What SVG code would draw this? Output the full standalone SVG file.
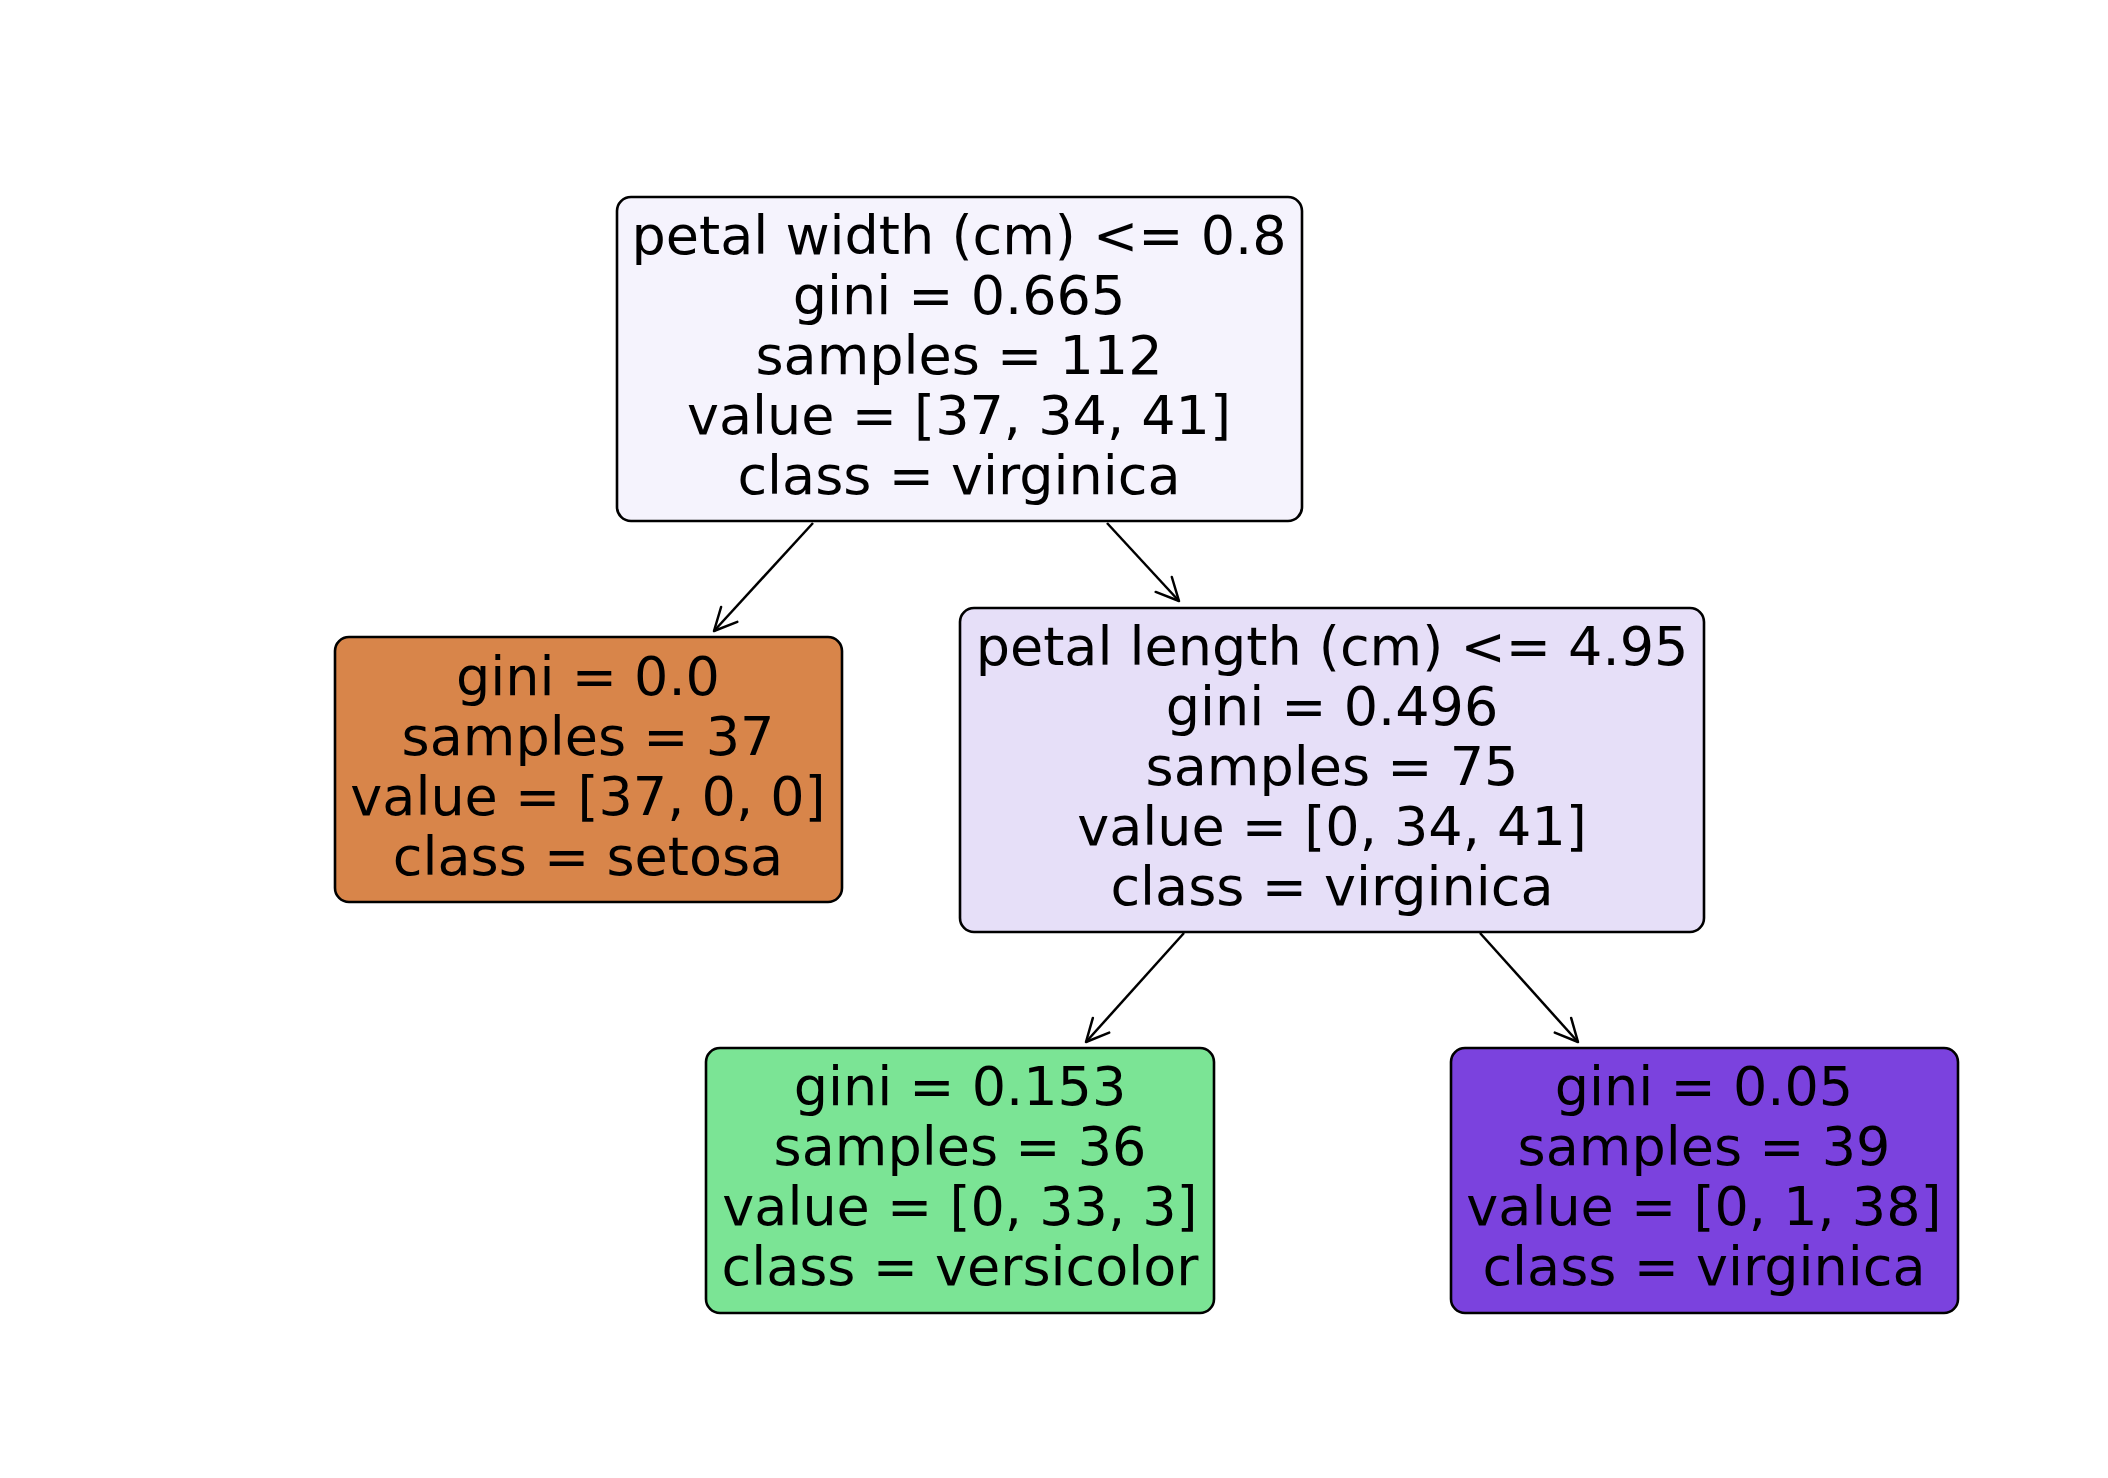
<svg xmlns="http://www.w3.org/2000/svg" width="2108" height="1478" viewBox="0 0 2108 1478">
<style>
.box{stroke:#000;stroke-width:2.6}
.t{font-family:"DejaVu Sans",sans-serif;font-size:54px;fill:#000;text-anchor:middle}
.edge{stroke:#000;stroke-width:2.5;fill:none;marker-end:url(#arr)}
</style>
<defs>
<marker id="arr" markerUnits="userSpaceOnUse" viewBox="-26 -14 30 28" refX="0" refY="0" markerWidth="30" markerHeight="28" orient="auto" overflow="visible">
<path d="M-22.5,-11 L0,0 L-22.5,11" fill="none" stroke="#000" stroke-width="2.5" stroke-linejoin="round" stroke-linecap="round"/>
</marker>
</defs>
<rect width="2108" height="1478" fill="#fff"/>
<g id="connectors">
<line class="edge" x1="813" y1="523" x2="714" y2="631"/>
<line class="edge" x1="1107" y1="523" x2="1179" y2="601"/>
<line class="edge" x1="1184" y1="933" x2="1086" y2="1042"/>
<line class="edge" x1="1480" y1="933" x2="1578" y2="1042"/>
</g>
<g id="node-root">
<rect class="box" x="617" y="197" width="685" height="324" rx="14" fill="#f5f3fd"/>
<text class="t" x="959" y="254">petal width (cm) &lt;= 0.8</text>
<text class="t" x="959" y="314">gini = 0.665</text>
<text class="t" x="959" y="374">samples = 112</text>
<text class="t" x="959" y="434">value = [37, 34, 41]</text>
<text class="t" x="959" y="494">class = virginica</text>
</g>
<g id="node-setosa">
<rect class="box" x="335" y="637" width="507" height="265" rx="14" fill="#d8854a"/>
<text class="t" x="588" y="695">gini = 0.0</text>
<text class="t" x="588" y="755">samples = 37</text>
<text class="t" x="588" y="815">value = [37, 0, 0]</text>
<text class="t" x="588" y="875">class = setosa</text>
</g>
<g id="node-petal-length">
<rect class="box" x="960" y="608" width="744" height="324" rx="14" fill="#e6dff8"/>
<text class="t" x="1332" y="665">petal length (cm) &lt;= 4.95</text>
<text class="t" x="1332" y="725">gini = 0.496</text>
<text class="t" x="1332" y="785">samples = 75</text>
<text class="t" x="1332" y="845">value = [0, 34, 41]</text>
<text class="t" x="1332" y="905">class = virginica</text>
</g>
<g id="node-versicolor">
<rect class="box" x="706" y="1048" width="508" height="265" rx="14" fill="#7be495"/>
<text class="t" x="960" y="1105">gini = 0.153</text>
<text class="t" x="960" y="1165">samples = 36</text>
<text class="t" x="960" y="1225">value = [0, 33, 3]</text>
<text class="t" x="960" y="1285">class = versicolor</text>
</g>
<g id="node-virginica">
<rect class="box" x="1451" y="1048" width="507" height="265" rx="14" fill="#7b42de"/>
<text class="t" x="1704" y="1105">gini = 0.05</text>
<text class="t" x="1704" y="1165">samples = 39</text>
<text class="t" x="1704" y="1225">value = [0, 1, 38]</text>
<text class="t" x="1704" y="1285">class = virginica</text>
</g>
</svg>
